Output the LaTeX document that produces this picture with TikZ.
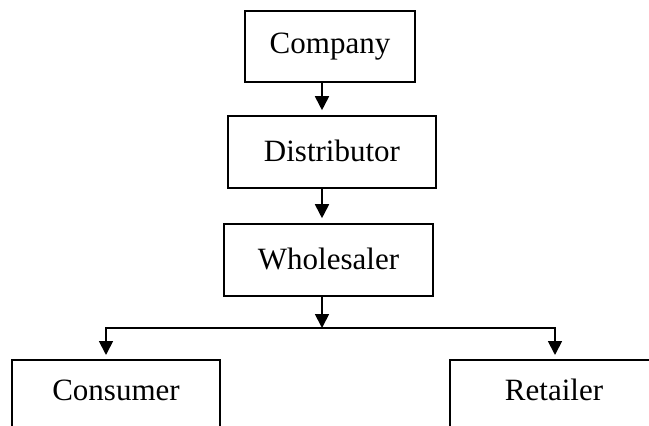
\documentclass[tikz,border=0pt]{standalone}
\usepackage{fontspec}
\setmainfont{Liberation Serif}
\usetikzlibrary{arrows.meta}
\tikzset{
  box/.style={draw, line width=1.6pt, rectangle, inner sep=0pt,
              font=\fontsize{31}{36}\selectfont},
  cutbox/.style={box, anchor=north, minimum width=208pt,
                 text height=41pt, text depth=90pt},
  arr/.style={line width=1.8pt, -{Triangle[length=14pt,width=14pt]}}
}
\begin{document}
\begin{tikzpicture}[x=1pt,y=-1pt]
  \useasboundingbox (0,0) rectangle (649,426);
  \clip (0,0) rectangle (649,426);

  % chain of boxes
  \node[box, minimum width=170pt, minimum height=71pt] (company) at (330,46.5)
       {\raisebox{3pt}{Company}};
  \node[box, minimum width=208pt, minimum height=72pt] (distributor) at (332,152)
       {\raisebox{3pt}{Distributor}};
  \node[box, minimum width=209pt, minimum height=72pt] (wholesaler) at (328.5,260)
       {\raisebox{3pt}{Wholesaler}};

  % the two end boxes run off the lower edge
  \node[cutbox] (consumer) at (116,359) {Consumer};
  \node[cutbox] (retailer) at (554,359) {Retailer};

  % connectors
  \coordinate (j)  at (322,328);
  \coordinate (cl) at (106,355);
  \coordinate (cr) at (555,355);

  \draw[arr, shorten >=5pt] (j |- company.south) -- (j |- distributor.north);
  \draw[arr, shorten >=5pt] (j |- distributor.south) -- (j |- wholesaler.north);
  \draw[arr] (j |- wholesaler.south) -- (j);
  \draw[arr] (j) -| (cl);
  \draw[arr] (j) -| (cr);
\end{tikzpicture}
\end{document}
